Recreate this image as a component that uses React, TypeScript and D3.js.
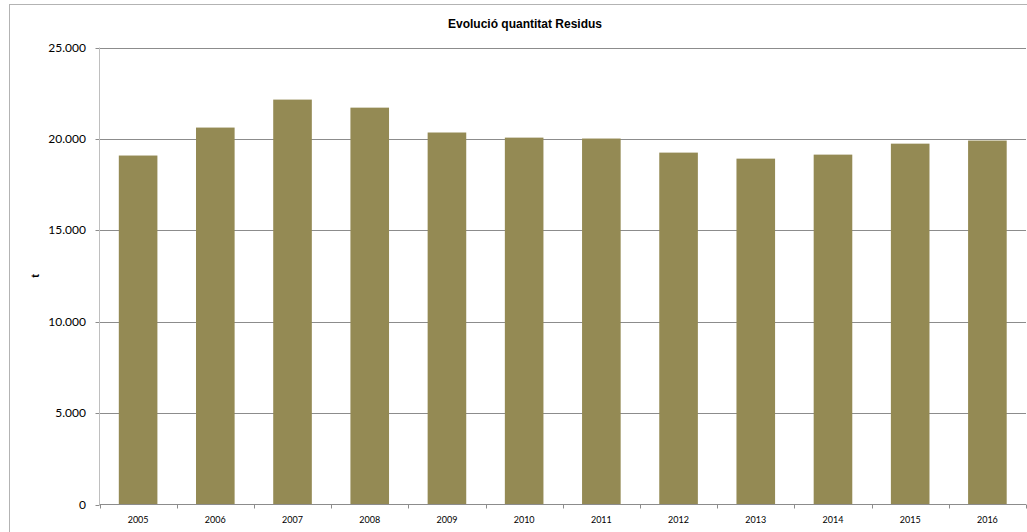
import React from "react";
import * as d3 from "d3";

const years = ["2005","2006","2007","2008","2009","2010","2011","2012","2013","2014","2015","2016"];
const residus = [19090, 20620, 22150, 21710, 20350, 20070, 20020, 19250, 18920, 19140, 19740, 19910];
const yTicks = [0, 5000, 10000, 15000, 20000, 25000];
const title = "Evolució quantitat Residus";
const yLabel = "t";

const W = 1027, H = 532;
const plotLeft = 99.5, plotRight = 1026, plotTop = 47.5, plotBottom = 504.5;

const fmt = (v: number) => (v === 0 ? "0" : d3.format(",")(v).replace(/,/g, "."));

export default function App() {
  const x = d3.scaleBand<string>().domain(years).range([plotLeft, plotRight]).paddingInner(0.5).paddingOuter(0.25);
  const y = d3.scaleLinear().domain([0, 25000]).range([plotBottom, plotTop]);
  const step = x.step();
  const boundaries = d3.range(years.length + 1).map((i) => plotLeft + i * step);
  return (
    <svg width={W} height={H} style={{ position: "absolute", left: 0, top: 0, background: "#fff" }}>
      <rect x={9.5} y={4.5} width={1060} height={560} fill="#fff" stroke="#b3b3b3" strokeWidth={1} />
      <text x={525} y={28} textAnchor="middle" fontFamily="'Liberation Sans', Arial, sans-serif" fontWeight="bold" fontSize={12}>{title}</text>
      {yTicks.map((t) => (
        <g key={t}>
          {t > 0 && <line x1={plotLeft} x2={plotRight} y1={Math.round(y(t)) + 0.5} y2={Math.round(y(t)) + 0.5} stroke="#8c8c8c" strokeWidth={1} />}
          <line x1={plotLeft - 4} x2={plotLeft} y1={Math.round(y(t)) + 0.5} y2={Math.round(y(t)) + 0.5} stroke="#8c8c8c" />
          <text x={86} y={y(t) + 4} textAnchor="end" fontFamily="Lato, 'Open Sans', sans-serif" fontSize={12} fill="#000">{fmt(t)}</text>
        </g>
      ))}
      {years.map((yr, i) => (
        <rect key={yr} x={x(yr)} y={y(residus[i])} width={x.bandwidth()} height={plotBottom - y(residus[i])} fill="#948A54" />
      ))}
      <line x1={plotLeft} x2={plotLeft} y1={plotTop} y2={plotBottom} stroke="#bfbfbf" />
      <line x1={plotLeft} x2={plotRight} y1={plotBottom} y2={plotBottom} stroke="#8c8c8c" />
      {boundaries.map((b, i) => (
        <line key={i} x1={Math.round(b) + 0.5} x2={Math.round(b) + 0.5} y1={plotBottom} y2={plotBottom + 4} stroke="#8c8c8c" />
      ))}
      {years.map((yr) => (
        <text key={yr} x={(x(yr) as number) + x.bandwidth() / 2} y={523} textAnchor="middle" fontFamily="Lato, 'Open Sans', sans-serif" fontSize={9} fill="#000">{yr}</text>
      ))}
      <text transform={`translate(39,276) rotate(-90)`} textAnchor="middle" fontFamily="'Liberation Sans', Arial, sans-serif" fontWeight="bold" fontSize={11}>{yLabel}</text>
    </svg>
  );
}
